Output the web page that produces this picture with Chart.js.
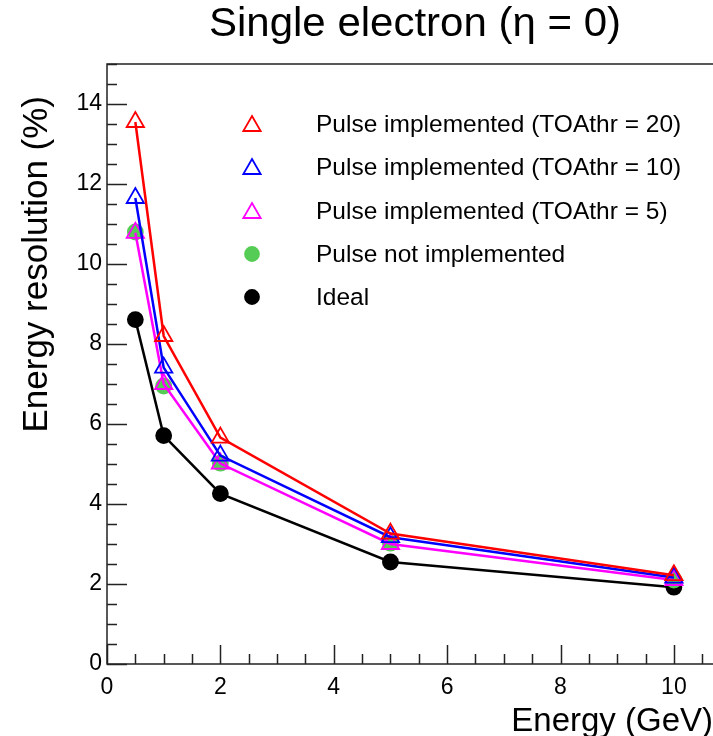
<!DOCTYPE html>
<html>
<head>
<meta charset="utf-8">
<script src="https://cdn.jsdelivr.net/npm/chart.js@4/dist/chart.umd.min.js"></script>
<style>
  html, body { margin: 0; padding: 0; background: #fff; overflow: hidden; }
  canvas { display: block; }
</style>
</head>
<body>
<canvas id="myChart" width="713" height="736"></canvas>
<script>
// energies in GeV and resolution in %
var energies = [0.5, 1, 2, 5, 10];
var toa20 = [13.55, 8.2, 5.66, 3.26, 2.22];
var toa10 = [11.65, 7.41, 5.21, 3.17, 2.16];
var toa5 = [10.78, 7.0, 5.01, 3.0, 2.1];
var noPulse = [10.8, 6.95, 5.02, 3.02, 2.1];
var ideal = [8.61, 5.71, 4.26, 2.55, 1.92];

var xTicks = [0, 2, 4, 6, 8, 10];
var yTicks = [0, 2, 4, 6, 8, 10, 12, 14];

var FONT = '"Liberation Sans", Arial, sans-serif';

function pts(ys) {
    return energies.map(function (e, i) { return { x: e, y: ys[i] }; });
}

function series(label, ys, color, style, filled, line) {
    return {
        label: label,
        data: pts(ys),
        borderColor: color,
        borderWidth: 2.5,
        showLine: line,
        tension: 0,
        pointStyle: style,
        pointRadius: style === 'triangle' ? 10 : 7.5,
        pointHoverRadius: style === 'triangle' ? 10 : 7.5,
        pointBorderColor: color,
        pointBackgroundColor: filled ? color : 'rgba(0,0,0,0)',
        pointBorderWidth: 1.8
    };
}

// frame (right side runs off the canvas), inward ticks, titles and legend
var rootStyle = {
    id: 'rootStyle',
    afterDraw: function (chart) {
        var ctx = chart.ctx;
        var a = chart.chartArea;
        var xs = chart.scales.x, ys = chart.scales.y;
        ctx.save();
        ctx.strokeStyle = '#222';
        ctx.lineWidth = 1.5;
        ctx.beginPath();
        ctx.moveTo(chart.width, a.top);
        ctx.lineTo(a.left, a.top);
        ctx.lineTo(a.left, a.bottom);
        ctx.lineTo(chart.width, a.bottom);
        ctx.stroke();

        ctx.beginPath();
        for (var v = ys.min; v <= ys.max + 1e-9; v += 0.5) {
            var py = Math.round(ys.getPixelForValue(v)) + 0.5;
            var len = (v % 2 === 0) ? 20 : 10;
            ctx.moveTo(a.left, py);
            ctx.lineTo(a.left + len, py);
        }
        for (var u = xs.min; u <= xs.max + 1e-9; u += 0.5) {
            var px = Math.round(xs.getPixelForValue(u)) + 0.5;
            var l2 = (u % 2 === 0) ? 19 : 10;
            ctx.moveTo(px, a.bottom);
            ctx.lineTo(px, a.bottom - l2);
        }
        ctx.stroke();

        ctx.fillStyle = '#000';
        // title
        ctx.save();
        ctx.translate(415, 36);
        ctx.scale(1.05, 1);
        ctx.font = '40px ' + FONT;
        ctx.textAlign = 'center';
        ctx.textBaseline = 'alphabetic';
        ctx.fillText('Single electron (\u03b7 = 0)', 0, 0);
        ctx.restore();

        // axis titles
        ctx.font = '33px ' + FONT;
        ctx.textAlign = 'right';
        ctx.textBaseline = 'alphabetic';
        ctx.fillText('Energy (GeV)', 713, 731);

        ctx.save();
        ctx.translate(47, 96);
        ctx.rotate(-Math.PI / 2);
        ctx.font = '35px ' + FONT;
        ctx.textAlign = 'right';
        ctx.fillText('Energy resolution (%)', 0, 0);
        ctx.restore();

        // legend
        var rows = [124, 167, 211, 254, 297];
        ctx.font = '24.5px ' + FONT;
        ctx.textAlign = 'left';
        ctx.textBaseline = 'middle';
        chart.data.datasets.forEach(function (ds, i) {
            var tri = ds.pointStyle === 'triangle';
            ctx.strokeStyle = ds.pointBorderColor;
            ctx.fillStyle = ds.pointBackgroundColor;
            ctx.lineWidth = 1.8;
            Chart.helpers.drawPoint(ctx, {
                pointStyle: ds.pointStyle,
                radius: tri ? 10 : 7,
                borderWidth: 1.8,
                rotation: 0
            }, 252, rows[i] + (tri ? 2 : 0));
            ctx.fillStyle = '#000';
            ctx.fillText(ds.label, 316, rows[i] + 1);
        });
        ctx.restore();
    }
};

var ctx = document.getElementById('myChart').getContext('2d');
var chart = new Chart(ctx, {
    type: 'line',
    data: {
        datasets: [
            series('Pulse implemented (TOAthr = 20)', toa20, '#ff0000', 'triangle', false, true),
            series('Pulse implemented (TOAthr = 10)', toa10, '#0000ff', 'triangle', false, true),
            series('Pulse implemented (TOAthr = 5)', toa5, '#ff00ff', 'triangle', false, true),
            series('Pulse not implemented', noPulse, '#55cc55', 'circle', true, false),
            series('Ideal', ideal, '#000000', 'circle', true, true)
        ]
    },
    options: {
        responsive: false,
        animation: false,
        layout: {
            autoPadding: false,
            padding: { top: 64, right: 0, bottom: 0, left: 0 }
        },
        plugins: {
            legend: { display: false },
            title: { display: false },
            tooltip: { enabled: false }
        },
        scales: {
            x: {
                type: 'linear',
                min: 0,
                max: 10.69,
                afterBuildTicks: function (s) { s.ticks = xTicks.map(function (v) { return { value: v }; }); },
                afterFit: function (s) {
                    s.height = 72;
                    s.paddingLeft = 0;
                    s.paddingRight = 0;
                },
                grid: { display: false, drawTicks: false },
                border: { display: false },
                ticks: {
                    color: '#000',
                    padding: 10,
                    maxRotation: 0,
                    font: { family: FONT, size: 23 }
                }
            },
            y: {
                type: 'linear',
                min: 0,
                max: 15,
                afterBuildTicks: function (s) { s.ticks = yTicks.map(function (v) { return { value: v }; }); },
                afterFit: function (s) {
                    s.width = 107;
                    s.paddingTop = 0;
                    s.paddingBottom = 0;
                },
                grid: { display: false, drawTicks: false },
                border: { display: false },
                ticks: {
                    color: '#000',
                    padding: 5,
                    font: { family: FONT, size: 23 }
                }
            }
        }
    },
    plugins: [rootStyle]
});
</script>
</body>
</html>
